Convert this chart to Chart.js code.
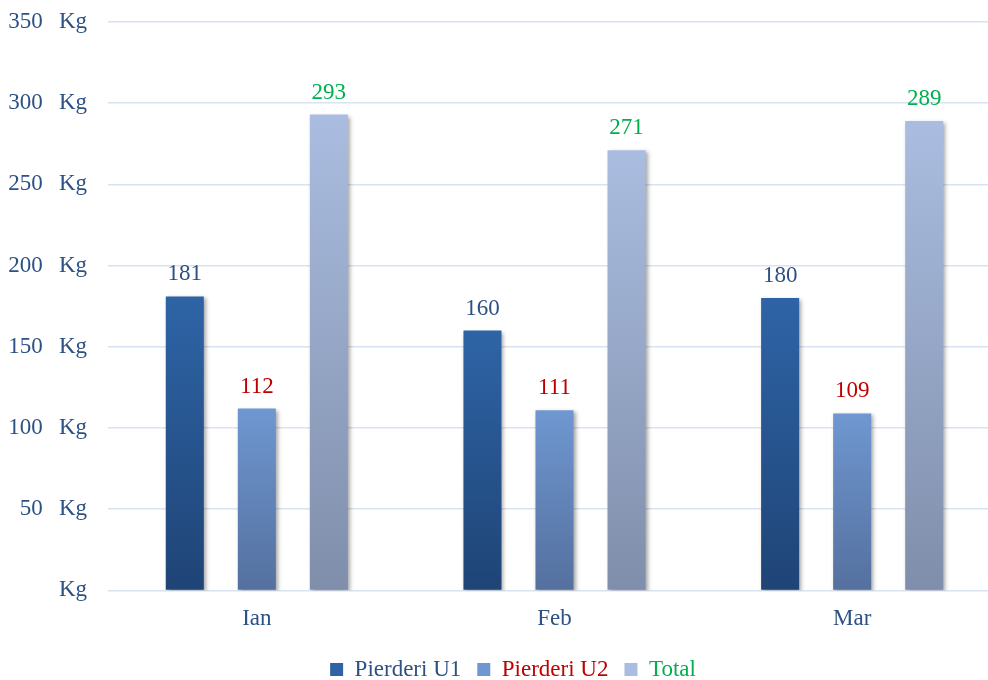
<!DOCTYPE html>
<html>
<head>
<meta charset="utf-8">
<script src="https://cdn.jsdelivr.net/npm/chart.js@4.4.1/dist/chart.umd.min.js"></script>
<style>
  html, body { margin: 0; padding: 0; background: #ffffff; overflow: hidden; }
  #wrap { width: 1001px; height: 680px; position: relative; }
</style>
</head>
<body>
<div id="wrap"><canvas id="c" width="1001" height="680"></canvas></div>
<script>
// ---- data ----
const categories = ['Ian', 'Feb', 'Mar'];
const seriesNames = ['Pierderi U1', 'Pierderi U2', 'Total'];
const pierderiU1 = [181, 160, 180];
const pierderiU2 = [112, 111, 109];
const total = [293, 271, 289];
const yTickValues = [0, 50, 100, 150, 200, 250, 300, 350];
const yTickLabels = ['Kg', '50  \u2009Kg', '100  \u2009Kg', '150  \u2009Kg', '200  \u2009Kg', '250  \u2009Kg', '300  \u2009Kg', '350  \u2009Kg'];

// ---- styles ----
const FONT = '"Liberation Serif", "Times New Roman", serif';
const FS = 23;
const AXIS_COLOR = '#2C5185';
const gradStops = [
  ['#2E64A6', '#1F4476'],
  ['#6F97D1', '#54709E'],
  ['#AABDE0', '#7F8EAA']
];
const labelColors = ['#2C5185', '#C00000', '#00B050'];

function barGradient(idx) {
  return function (ctx) {
    const chart = ctx.chart;
    const ys = chart.scales && chart.scales.y;
    if (!ys || ctx.type !== 'data' || !ctx.parsed) return gradStops[idx][0];
    const top = ys.getPixelForValue(ctx.parsed.y);
    const bot = ys.getPixelForValue(0);
    if (!isFinite(top) || !isFinite(bot) || top === bot) return gradStops[idx][0];
    const g = chart.ctx.createLinearGradient(0, top, 0, bot);
    g.addColorStop(0, gradStops[idx][0]);
    g.addColorStop(1, gradStops[idx][1]);
    return g;
  };
}

const seriesData = [pierderiU1, pierderiU2, total];

const shadowPlugin = {
  id: 'barShadow',
  beforeDatasetDraw(chart) {
    const c = chart.ctx;
    c.save();
    c.shadowColor = 'rgba(0,0,0,0.35)';
    c.shadowBlur = 4;
    c.shadowOffsetX = 2;
    c.shadowOffsetY = 2;
  },
  afterDatasetDraw(chart) {
    chart.ctx.restore();
  }
};

const legendShiftPlugin = {
  id: 'legendShift',
  afterLayout(chart) {
    if (chart.legend) {
      chart.legend.left += 10;
      chart.legend.right += 10;
    }
  }
};

const valueLabelPlugin = {
  id: 'valueLabels',
  afterDatasetsDraw(chart) {
    const c = chart.ctx;
    c.save();
    c.font = FS + 'px ' + FONT;
    c.textAlign = 'center';
    c.textBaseline = 'alphabetic';
    chart.data.datasets.forEach((ds, di) => {
      const meta = chart.getDatasetMeta(di);
      c.fillStyle = labelColors[di];
      meta.data.forEach((el, i) => {
        c.fillText(String(ds.data[i]), el.x, el.y - 16);
      });
    });
    c.restore();
  }
};

const chart = new Chart(document.getElementById('c'), {
  type: 'bar',
  data: {
    labels: categories,
    datasets: seriesNames.map((name, i) => ({
      label: name,
      data: seriesData[i],
      backgroundColor: barGradient(i),
      borderWidth: 0,
      categoryPercentage: 0.726,
      barPercentage: 0.528
    }))
  },
  options: {
    responsive: false,
    animation: false,
    devicePixelRatio: 1,
    layout: { padding: { left: 5, right: 0, top: 22, bottom: -11 } },
    scales: {
      x: {
        grid: { display: false, drawTicks: false },
        border: { display: false },
        ticks: { color: AXIS_COLOR, font: { family: FONT, size: FS }, padding: 15 },
        afterFit(scale) { scale.height -= 6; }
      },
      y: {
        min: 0, max: 350,
        afterBuildTicks(scale) { scale.ticks = yTickValues.map(v => ({ value: v })); },
        afterFit(scale) { scale.width = 103; scale.paddingTop = 0; scale.paddingBottom = 0; },
        grid: { color: '#D9E2F1', lineWidth: 1.5, drawTicks: false },
        border: { display: false },
        ticks: {
          color: AXIS_COLOR,
          font: { family: FONT, size: FS },
          padding: 21,
          callback(value) { return yTickLabels[yTickValues.indexOf(value)]; }
        }
      }
    },
    plugins: {
      tooltip: { enabled: false },
      legend: {
        position: 'bottom',
        labels: {
          font: { family: FONT, size: FS },
          boxWidth: 13,
          boxHeight: 13,
          padding: 16,
          generateLabels(chart) {
            return chart.data.datasets.map((ds, i) => ({
              text: ds.label,
              fillStyle: gradStops[i][0],
              strokeStyle: 'rgba(0,0,0,0)',
              lineWidth: 0,
              fontColor: labelColors[i],
              hidden: false,
              datasetIndex: i
            }));
          }
        }
      }
    }
  },
  plugins: [shadowPlugin, valueLabelPlugin, legendShiftPlugin]
});
</script>
</body>
</html>
